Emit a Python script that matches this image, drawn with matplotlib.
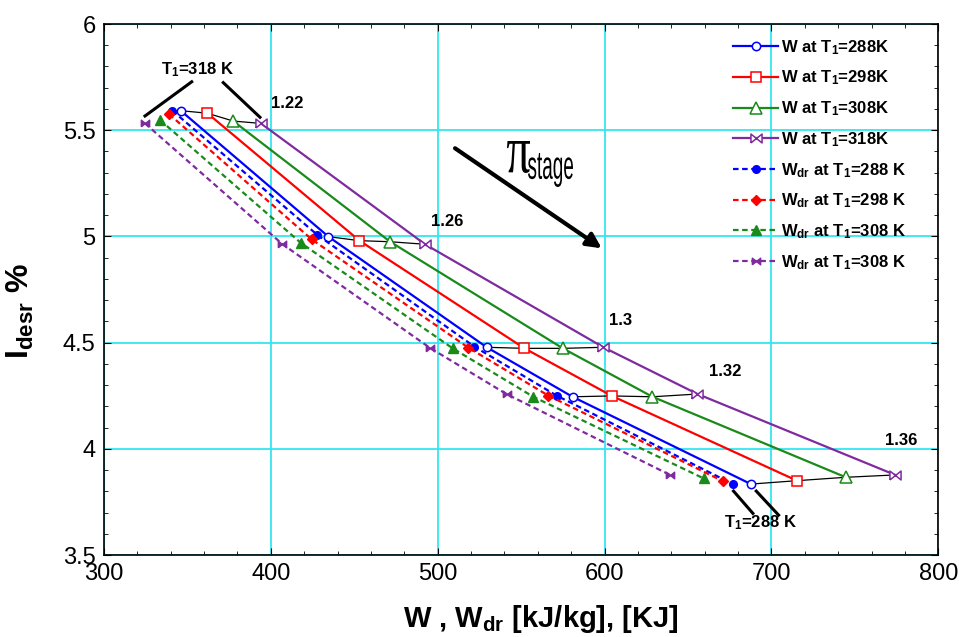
import numpy as np, matplotlib
matplotlib.use("Agg")
import matplotlib.pyplot as plt
from matplotlib.ticker import MultipleLocator
from matplotlib.textpath import TextPath
from matplotlib.font_manager import FontProperties
from matplotlib.patches import PathPatch
from matplotlib.transforms import Affine2D
plt.rcParams['font.family']=['Liberation Sans','DejaVu Sans']
plt.rcParams['mathtext.default']='regular'

pi_stage=[1.22,1.26,1.30,1.32,1.36]
pi_labels=["1.22","1.26","1.3","1.32","1.36"]
# W (solid, open markers)
w288_x=[346.0,434.5,529.4,580.8,687.7]; w288_y=[5.592,4.999,4.478,4.245,3.834]
w298_x=[362.0,453.1,552.0,604.4,715.3]; w298_y=[5.580,4.980,4.473,4.249,3.850]
w308_x=[377.5,471.5,575.0,628.7,744.6]; w308_y=[5.543,4.975,4.473,4.245,3.866]
w318_x=[394.1,492.4,599.3,655.7,774.2]; w318_y=[5.532,4.963,4.478,4.258,3.877]
# W_dr (dashed, filled markers)
wdr288_x=[341.0,427.9,522.0,571.4,676.9]; wdr288_y=[5.592,5.007,4.481,4.250,3.834]
wdr298_x=[339.0,424.5,518.4,566.4,670.9]; wdr298_y=[5.576,4.986,4.476,4.250,3.848]
wdr308_x=[333.6,417.9,509.0,557.3,659.3]; wdr308_y=[5.548,4.970,4.473,4.245,3.861]
wdr318_x=[324.6,406.9,495.4,541.4,639.3]; wdr318_y=[5.532,4.964,4.475,4.257,3.877]
labels=["W at T$_1$=288K","W at T$_1$=298K","W at T$_1$=308K","W at T$_1$=318K",
        "W$_{dr}$ at T$_1$=288 K","W$_{dr}$ at T$_1$=298 K","W$_{dr}$ at T$_1$=308 K","W$_{dr}$ at T$_1$=308 K"]
# pi label positions (data coords)
lab_x=[409.7,505.6,609.4,672.3,777.8]; lab_y=[5.628,5.070,4.606,4.362,4.037]

BLUE,RED,GREEN,PURP="#0000ff","#ff0000","#1a8a1a","#7f2a9f"
bow=[(-1,-0.8),(-1,0.8),(1,-0.8),(1,0.8),(-1,-0.8)]
H=637

fig=plt.figure(figsize=(9.59,6.37),dpi=100)
ax=fig.add_axes([0.1084,0.1287,0.8700,0.8336])
W=[(w288_x,w288_y,BLUE,'o',6),(w298_x,w298_y,RED,'s',7.5),(w308_x,w308_y,GREEN,'^',8),(w318_x,w318_y,PURP,bow,8)]
WD=[(wdr288_x,wdr288_y,BLUE,'o',5.5),(wdr298_x,wdr298_y,RED,'D',5),(wdr308_x,wdr308_y,GREEN,'^',7),(wdr318_x,wdr318_y,PURP,bow,6)]
hs=[]
for x,y,c,m,ms in W:
    hs+=ax.plot(x,y,'-',color=c,lw=1.6,marker=m,ms=ms,mfc='white',mec=c,mew=1.1,zorder=4)
for x,y,c,m,ms in WD:
    hs+=ax.plot(x,y,color=c,lw=1.6,ls=(0,(2.5,1.6)),marker=m,ms=ms,mfc=c,mec=c,zorder=4)
# black lines joining W markers at the same pressure ratio
for i in range(len(pi_stage)):
    ax.plot([w288_x[i],w298_x[i],w308_x[i],w318_x[i]],[w288_y[i],w298_y[i],w308_y[i],w318_y[i]],
            color='k',lw=0.9,zorder=3)
    ax.text(lab_x[i],lab_y[i],pi_labels[i],fontsize=12,fontweight='bold',ha='center',va='center')

ax.text(356.1,5.783,"T$_1$=318 K",fontsize=12,fontweight='bold',ha='center',va='center')
ax.plot([352.6,324.6],[5.728,5.567],color='k',lw=2.2)
ax.plot([371.5,393.5],[5.724,5.561],color='k',lw=2.2)
ax.text(693.3,3.651,"T$_1$=288 K",fontsize=12,fontweight='bold',ha='center',va='center')
ax.plot([677.3,688.9],[3.801,3.696],color='k',lw=2.2)
ax.plot([690.9,704.3],[3.801,3.688],color='k',lw=2.2)
ax.annotate('',xy=(598.3,4.944),xytext=(510.4,5.415),
            arrowprops=dict(arrowstyle='-|>',lw=3,color='k',mutation_scale=22,shrinkA=0,shrinkB=0))

def fit_text(s,family,x0,x1,y0,y1):
    # text glyphs squeezed into a pixel box (image coords, y down)
    p=TextPath((0,0),s,size=1,prop=FontProperties(family=family))
    e=p.get_extents()
    t=Affine2D().translate(-e.x0,-e.y0).scale((x1-x0)/e.width,(y1-y0)/e.height).translate(x0,H-y1)
    fig.add_artist(PathPatch(p,transform=t,color='k',lw=0))
fit_text("π","Liberation Serif",507,530,141,173)
fit_text("stage","Liberation Sans",528,573,153,187)

ax.set_xlim(300,800); ax.set_ylim(3.5,6)
ax.xaxis.set_major_locator(MultipleLocator(100)); ax.xaxis.set_minor_locator(MultipleLocator(20))
ax.yaxis.set_major_locator(MultipleLocator(0.5)); ax.yaxis.set_minor_locator(MultipleLocator(0.1))
ax.set_yticks([3.5,4,4.5,5,5.5,6],["3.5","4","4.5","5","5.5","6"])
ax.tick_params(which='both',direction='in',top=True,right=True,labelsize=17,pad=6)
ax.tick_params(which='major',length=5); ax.tick_params(which='minor',length=3)
ax.grid(True,which='major',color='#33e6f0',lw=1.3)
ax.set_axisbelow(True)
for s in ax.spines.values(): s.set_linewidth(1.2)
ax.set_xlabel("W , W$_{dr}$ [kJ/kg], [KJ]",fontsize=21,fontweight='bold')
ax.xaxis.set_label_coords(0.524,-0.09)
ax.set_ylabel("I$_{desr}$ %",fontsize=23,fontweight='bold')
ax.yaxis.set_label_coords(-0.082,0.4586)
ax.legend(hs,labels,loc='upper left',bbox_to_anchor=(0.754,0.9736),frameon=False,
          prop=dict(weight='bold',size=12),handlelength=2.7,handletextpad=0.15,labelspacing=0.72,
          borderpad=0,borderaxespad=0)
fig.savefig("out.png",dpi=100)
